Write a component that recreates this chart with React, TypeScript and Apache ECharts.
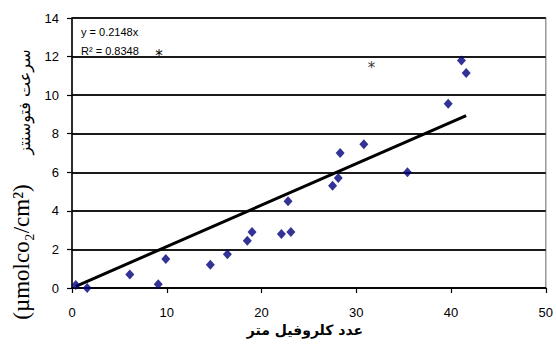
import React, { useEffect, useRef } from "react";
import * as echarts from "echarts";

const chlorophyll = [0.4, 1.6, 6.1, 9.1, 9.9, 14.6, 16.4, 18.5, 19.0, 22.1, 23.1, 22.8, 27.5, 28.1, 28.3, 30.8, 35.4, 39.7, 41.1, 41.6];
const photosynthesis = [0.15, 0.0, 0.7, 0.2, 1.5, 1.2, 1.75, 2.45, 2.9, 2.8, 2.9, 4.5, 5.3, 5.7, 7.0, 7.45, 6.0, 9.55, 11.8, 11.15];
const slope = 0.2148;
const trendRange = [0.4, 41.6];
const starPoint = [31.4, 11.6];
const equationLines = ["y = 0.2148x", "R² = 0.8348"];
const starMark = "*";
const xTitle = "عدد كلروفيل متر";
const yTitleArabic = "سرعت فتوسنتز";
const yTitleUnit = "(µmolco₂/cm²)";

export default function App() {
  const ref = useRef<HTMLDivElement>(null);
  useEffect(() => {
    if (!ref.current) return;
    const chart = echarts.init(ref.current, null, { renderer: "svg" });
    const points = chlorophyll.map((x, i) => [x, photosynthesis[i]]);
    const trend = trendRange.map((x) => [x, slope * x]);
    chart.setOption({
      animation: false,
      backgroundColor: "#fff",
      grid: {
        left: 72,
        top: 18,
        right: 8,
        bottom: 56,
        show: true,
        borderColor: "#999",
        borderWidth: 1.5,
      },
      xAxis: {
        type: "value",
        min: 0,
        max: 50,
        interval: 10,
        axisLine: { lineStyle: { color: "#000", width: 1.5 } },
        axisTick: { show: true, length: 5, lineStyle: { color: "#000", width: 1.2 } },
        axisLabel: { color: "#000", fontSize: 13, fontFamily: "Liberation Sans, Arial", margin: 18 },
        splitLine: { show: false },
      },
      yAxis: {
        type: "value",
        min: 0,
        max: 14,
        interval: 2,
        axisLine: { show: true, lineStyle: { color: "#000", width: 1.5 } },
        axisTick: { show: true, length: 5, lineStyle: { color: "#000", width: 1.2 } },
        axisLabel: { color: "#000", fontSize: 13, fontFamily: "Liberation Sans, Arial", margin: 13 },
        splitLine: { show: true, lineStyle: { color: "#1a1a1a", width: 1.8 } },
      },
      series: [
        {
          type: "line",
          data: trend,
          symbol: "none",
          lineStyle: { color: "#000", width: 3 },
          z: 2,
        },
        {
          type: "scatter",
          data: points,
          symbol: "diamond",
          symbolSize: [9, 10],
          itemStyle: { color: "#00007a" },
          z: 3,
        },
        {
          type: "scatter",
          data: [starPoint],
          symbolSize: 0,
          label: {
            show: true,
            position: "inside",
            offset: [2, 4],
            formatter: starMark,
            color: "#000",
            fontSize: 15,
            fontFamily: "DejaVu Sans",
          },
          z: 4,
        },
      ],
      graphic: [
        {
          type: "text",
          left: 81,
          top: 26,
          style: { text: equationLines[0], fontSize: 11, fontFamily: "Liberation Sans, Arial", fill: "#000" },
        },
        {
          type: "text",
          left: 81,
          top: 45,
          style: { text: equationLines[1], fontSize: 11, fontFamily: "Liberation Sans, Arial", fill: "#000" },
        },
        {
          type: "text",
          x: 159,
          y: 56,
          style: { text: starMark, fontSize: 15, fontFamily: "DejaVu Sans", fill: "#000", align: "center", verticalAlign: "middle" },
        },
        {
          type: "text",
          x: 305,
          y: 330,
          style: {
            text: xTitle,
            fontSize: 14,
            fontWeight: "bold",
            fontFamily: "DejaVu Sans",
            fill: "#000",
            align: "center",
            verticalAlign: "middle",
          },
        },
        {
          type: "text",
          x: 24,
          y: 102,
          rotation: Math.PI / 2,
          style: {
            text: yTitleArabic,
            fontSize: 16,
            fontFamily: "DejaVu Sans",
            fill: "#000",
            align: "center",
            verticalAlign: "middle",
          },
        },
        {
          type: "text",
          x: 21,
          y: 252,
          rotation: Math.PI / 2,
          style: {
            text: yTitleUnit,
            fontSize: 23,
            fontFamily: "Liberation Serif, Times New Roman",
            fill: "#000",
            align: "center",
            verticalAlign: "middle",
          },
        },
      ],
    });
    return () => chart.dispose();
  }, []);
  return <div ref={ref} style={{ position: "absolute", left: 0, top: 0, width: 556, height: 344 }} />;
}
